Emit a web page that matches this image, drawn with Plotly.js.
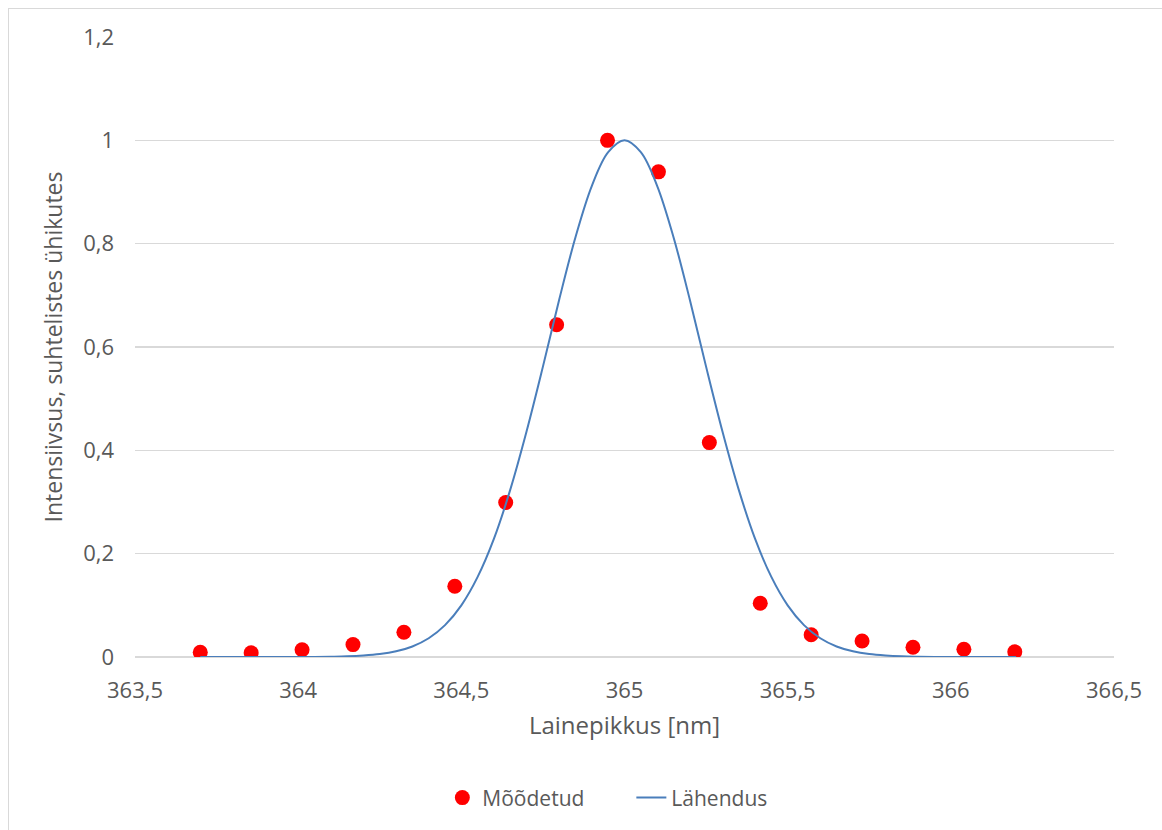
<!DOCTYPE html>
<html>
<head>
<meta charset="utf-8">
<script src="https://cdn.plot.ly/plotly-3.0.1.min.js"></script>
<style>
  html, body { margin: 0; padding: 0; background: #fff; }
  #chart { width: 1162px; height: 830px; }
  #frame {
    position: absolute; left: 8px; top: 8px; width: 1400px; height: 1000px;
    border-left: 1px solid #d9d9d9; border-top: 1px solid #d9d9d9;
    pointer-events: none;
  }
</style>
</head>
<body>
<div id="chart"></div>
<div id="frame"></div>
<script>
// Measured spectral line (wavelength in nm, relative intensity)
const measuredWavelength = [363.700, 363.856, 364.012, 364.168, 364.324, 364.480, 364.636, 364.792, 364.948,
                            365.104, 365.260, 365.416, 365.572, 365.728, 365.884, 366.040, 366.196];
const measuredIntensity  = [0.009, 0.008, 0.014, 0.024, 0.048, 0.137, 0.299, 0.643, 1.000,
                            0.939, 0.415, 0.104, 0.043, 0.031, 0.019, 0.015, 0.010];

// Fitted profile, tabulated
const fitWavelength = [363.70, 363.75, 363.80, 363.85, 363.90, 363.95, 364.00, 364.05, 364.10, 364.15,
                       364.20, 364.25, 364.30, 364.35, 364.40, 364.45, 364.50, 364.55, 364.60, 364.65,
                       364.70, 364.75, 364.80, 364.85, 364.90, 364.95, 365.00, 365.05, 365.10, 365.15,
                       365.20, 365.25, 365.30, 365.35, 365.40, 365.45, 365.50, 365.55, 365.60, 365.65,
                       365.70, 365.75, 365.80, 365.85, 365.90, 365.95, 366.00, 366.05, 366.10, 366.15, 366.20];
const fitIntensity  = [0.0000, 0.0000, 0.0000, 0.0000, 0.0000, 0.0000, 0.0001, 0.0002, 0.0006, 0.0013,
                       0.0028, 0.0056, 0.0110, 0.0204, 0.0363, 0.0617, 0.100, 0.155, 0.229, 0.324,
                       0.437, 0.562, 0.692, 0.813, 0.912, 0.977, 1.000, 0.977, 0.912, 0.813,
                       0.692, 0.562, 0.437, 0.324, 0.229, 0.155, 0.100, 0.0617, 0.0363, 0.0204,
                       0.0110, 0.0056, 0.0028, 0.0013, 0.0006, 0.0002, 0.0001, 0.0000, 0.0000, 0.0000, 0.0000];

const seriesNames = ['Mõõdetud', 'Lähendus'];
const xTitle = 'Lainepikkus [nm]';
const yTitle = 'Intensiivsus, suhtelistes ühikutes';

const FONT = '"Open Sans", "Noto Sans", sans-serif';
const TEXT = '#595959';

const traces = [
  {
    x: measuredWavelength, y: measuredIntensity, name: seriesNames[0],
    type: 'scatter', mode: 'markers',
    marker: { color: '#ff0000', size: 15, line: { width: 0 } }
  },
  {
    x: fitWavelength, y: fitIntensity, name: seriesNames[1],
    type: 'scatter', mode: 'lines',
    line: { color: '#4a7ebb', width: 2, shape: 'spline', smoothing: 1 }
  }
];

const layout = {
  width: 1162, height: 830,
  paper_bgcolor: '#fff', plot_bgcolor: '#fff',
  separators: ', ',
  font: { family: FONT, color: TEXT, size: 21 },
  margin: { l: 135, r: 48, t: 37, b: 173 },
  showlegend: true,
  legend: {
    orientation: 'h',
    x: 0.507, xanchor: 'center',
    yref: 'container', y: 0.0386, yanchor: 'middle',
    font: { family: FONT, size: 21, color: TEXT },
    entrywidth: 144, entrywidthmode: 'pixels', tracegroupgap: 0
  },
  xaxis: {
    range: [363.5, 366.5], dtick: 0.5, tick0: 363.5,
    showgrid: false, zeroline: false, showline: false,
    ticks: '', ticklabelstandoff: 18,
    tickfont: { family: FONT, size: 22, color: TEXT },
    title: { text: xTitle, font: { family: FONT, size: 24, color: TEXT }, standoff: 14 }
  },
  yaxis: {
    range: [0, 1.2], dtick: 0.2, tick0: 0,
    showgrid: true, gridcolor: '#d9d9d9', gridwidth: 1.5,
    zeroline: true, zerolinecolor: '#d9d9d9', zerolinewidth: 1.5,
    showline: false, ticks: '', ticklabelstandoff: 20,
    tickfont: { family: FONT, size: 22, color: TEXT },
    title: { text: yTitle, font: { family: FONT, size: 23, color: TEXT }, standoff: 14 }
  }
};

Plotly.newPlot('chart', traces, layout, { displayModeBar: false, staticPlot: true });
</script>
</body>
</html>
